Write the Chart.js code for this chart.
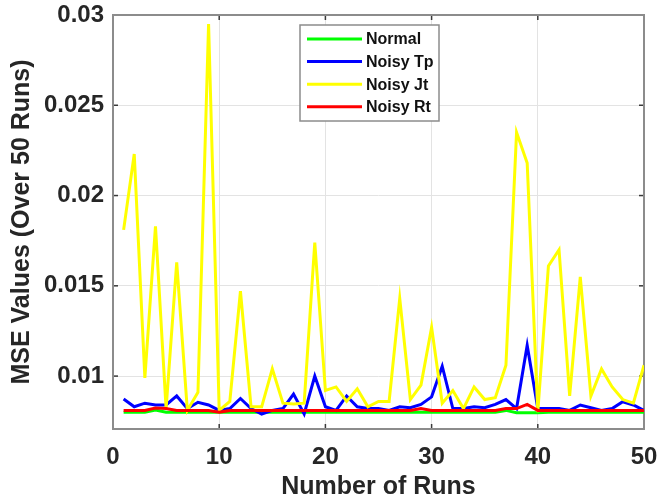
<!DOCTYPE html>
<html><head><meta charset="utf-8">
<script src="https://cdn.jsdelivr.net/npm/chart.js@4/dist/chart.umd.min.js"></script>
<style>html,body{margin:0;padding:0;background:#fff}canvas{display:block}</style>
</head><body>
<canvas id="c" width="659" height="500"></canvas>
<script>
const runs = [1,2,3,4,5,6,7,8,9,10,11,12,13,14,15,16,17,18,19,20,21,22,23,24,25,26,27,28,29,30,31,32,33,34,35,36,37,38,39,40,41,42,43,44,45,46,47,48,49,50];
const normal = [0.0080,0.0080,0.0080,0.00812,0.0080,0.0080,0.0080,0.0080,0.0080,0.0080,0.0080,0.0080,0.0080,0.0080,0.0080,0.0080,0.0080,0.0080,0.0080,0.0080,0.0080,0.0080,0.0080,0.0080,0.0080,0.0080,0.0080,0.0080,0.0080,0.0080,0.0080,0.0080,0.0080,0.0080,0.0080,0.0080,0.0081,0.00797,0.00797,0.00797,0.0080,0.0080,0.0080,0.0080,0.0080,0.0080,0.0080,0.0080,0.0080,0.0080];
const noisyTp = [0.00873,0.0083,0.0085,0.0084,0.0084,0.0089,0.0082,0.00855,0.0084,0.0081,0.0082,0.00876,0.0082,0.0079,0.0081,0.0082,0.0090,0.0079,0.0100,0.0083,0.0081,0.0089,0.0083,0.0082,0.0082,0.0081,0.0083,0.00825,0.00843,0.00885,0.01055,0.0082,0.0082,0.0083,0.00825,0.00843,0.0087,0.0082,0.0117,0.0082,0.0082,0.0082,0.0081,0.0084,0.00825,0.0081,0.0082,0.00858,0.0084,0.0081];
const noisyJt = [0.0181,0.0223,0.0099,0.0183,0.0082,0.0163,0.0081,0.0091,0.0295,0.0081,0.0086,0.0147,0.0083,0.0083,0.0104,0.0085,0.00845,0.0085,0.0174,0.0092,0.0094,0.0086,0.0093,0.0083,0.0086,0.0086,0.0143,0.0087,0.0095,0.0127,0.0085,0.0092,0.0082,0.0094,0.0087,0.0088,0.0106,0.0235,0.0218,0.0080,0.0161,0.0170,0.0089,0.0155,0.0089,0.0104,0.0094,0.0087,0.0085,0.0106];
const noisyRt = [0.0081,0.0081,0.0081,0.00823,0.0082,0.0081,0.0081,0.0081,0.0081,0.0080,0.0081,0.0081,0.0081,0.0081,0.0081,0.0081,0.0081,0.0081,0.0081,0.0081,0.0081,0.0081,0.0081,0.0081,0.0081,0.0081,0.0081,0.0081,0.0082,0.0081,0.0081,0.0081,0.0081,0.0081,0.0081,0.0081,0.0082,0.0082,0.00843,0.0081,0.0081,0.0081,0.0081,0.0081,0.0081,0.0081,0.0081,0.0081,0.0081,0.0081];
const xTicks = [0,10,20,30,40,50];
const yTicks = [0.01,0.015,0.02,0.025,0.03];
const yTickLabels = ['0.01','0.015','0.02','0.025','0.03'];
const seriesNames = ['Normal','Noisy Tp','Noisy Jt','Noisy Rt'];
const seriesColors = ['#00ff00','#0000ff','#ffff00','#ff0000'];

const FONT = "'Liberation Sans', Arial, sans-serif";
const pts = arr => arr.map((v,i)=>({x:runs[i], y:v}));
const allSeries = [normal, noisyTp, noisyJt, noisyRt];

const boxPlugin = {
  id:'box',
  beforeDatasetsDraw(chart){
    const {ctx, chartArea:a, scales:{x,y}} = chart;
    ctx.save();
    ctx.strokeStyle = '#3a3a3a'; ctx.lineWidth = 1.5;
    const ln=(x1,y1,x2,y2)=>{ctx.beginPath();ctx.moveTo(x1,y1);ctx.lineTo(x2,y2);ctx.stroke();};
    xTicks.forEach(v=>{const p=x.getPixelForValue(v); ln(p,a.bottom,p,a.bottom-5); ln(p,a.top,p,a.top+5);});
    yTicks.forEach(v=>{const p=y.getPixelForValue(v); ln(a.left,p,a.left+5,p); ln(a.right,p,a.right-5,p);});
    ctx.strokeStyle = '#8c8c8c'; ctx.lineWidth = 2;
    ctx.strokeRect(a.left, a.top, a.right-a.left, a.bottom-a.top);
    ctx.restore();
  }
};
const legendPlugin = {
  id:'legbox',
  afterDatasetsDraw(chart){
    const {ctx, chartArea:a} = chart;
    const L = a.left + 187, T = a.top + 10, W = 139, H = 96;
    ctx.save();
    ctx.fillStyle = '#fff'; ctx.fillRect(L,T,W,H);
    ctx.strokeStyle = '#8c8c8c'; ctx.lineWidth = 1.5; ctx.strokeRect(L,T,W,H);
    ctx.font = "bold 16px " + FONT; ctx.textBaseline = 'middle'; ctx.textAlign='left';
    chart.data.datasets.forEach((ds,i)=>{
      const cy = T + 14 + i*22.6;
      ctx.strokeStyle = ds.borderColor; ctx.lineWidth = 3;
      ctx.beginPath(); ctx.moveTo(L+7,cy); ctx.lineTo(L+62,cy); ctx.stroke();
      ctx.fillStyle = '#111'; ctx.fillText(ds.label, L+66, cy+1);
    });
    ctx.restore();
  }
};

new Chart(document.getElementById('c'), {
  type:'line',
  data:{ datasets: seriesNames.map((n,i)=>({
    label:n, data:pts(allSeries[i]), borderColor:seriesColors[i], backgroundColor:seriesColors[i],
    borderWidth:3, pointRadius:0, tension:0, fill:false, order:4-i
  }))},
  options:{
    responsive:false, animation:false, devicePixelRatio:1,
    layout:{padding:{left:0,right:15,top:15,bottom:0}},
    plugins:{legend:{display:false}, tooltip:{enabled:false}},
    scales:{
      x:{type:'linear', min:0, max:50,
        afterBuildTicks:s=>{s.ticks = xTicks.map(v=>({value:v}));},
        afterFit:s=>{s.height = 71; s.paddingLeft = 0; s.paddingRight = 0;},
        grid:{color:'#e3e3e3', lineWidth:1, drawTicks:false},
        border:{display:false},
        ticks:{padding:14, color:'#262626', font:{family:FONT, size:24, weight:'bold'}, maxRotation:0, callback:v=>String(v)},
        title:{display:true, text:'Number of Runs', color:'#262626', padding:{top:0,bottom:0},
          font:{family:FONT, size:25, weight:'bold', lineHeight:1}}
      },
      y:{type:'linear', min:0.00707, max:0.03,
        afterBuildTicks:s=>{s.ticks = yTicks.map(v=>({value:v}));},
        afterFit:s=>{s.width = 113; s.paddingTop = 0; s.paddingBottom = 0;},
        grid:{color:'#e3e3e3', lineWidth:1, drawTicks:false},
        border:{display:false},
        ticks:{padding:9, color:'#262626', font:{family:FONT, size:24, weight:'bold'},
          callback:(v,i)=>yTickLabels[i]},
        title:{display:true, text:'MSE Values (Over 50 Runs)', color:'#262626', padding:{top:10,bottom:0},
          font:{family:FONT, size:25, weight:'bold', lineHeight:1}}
      }
    }
  },
  plugins:[boxPlugin, legendPlugin]
});
</script>
</body></html>
